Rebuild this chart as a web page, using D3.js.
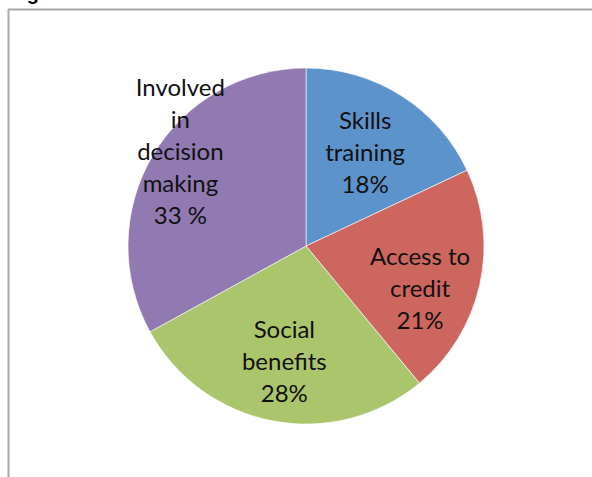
<!DOCTYPE html>
<html>
<head>
<meta charset="utf-8">
<script src="https://cdn.jsdelivr.net/npm/d3@7"></script>
<style>
  html, body { margin: 0; padding: 0; background: #fff; }
  svg { display: block; }
</style>
</head>
<body>
<svg id="chart" width="592" height="477"></svg>
<script>
// Slice data, clockwise from 12 o'clock
const categories = ["Skills training", "Access to credit", "Social benefits", "Involved in decision making"];
const shares = [18, 21, 28, 33];
const labelLines = [
  ["Skills", "training", "18%"],
  ["Access to", "credit", "21%"],
  ["Social", "benefits", "28%"],
  ["Involved", "in", "decision", "making", "33 %"]
];
const sliceColors = ["#5d93cb", "#ce6660", "#abc56c", "#9179b2"];

const svg = d3.select("#chart");

// Frame lines of the figure panel and the clipped caption above it
svg.append("text")
  .attr("x", 9).attr("y", 0)
  .attr("font-family", "Liberation Sans, Arial, sans-serif")
  .attr("font-weight", "bold").attr("font-size", 20)
  .text("Figure");
svg.append("line")
  .attr("x1", 8).attr("x2", 592).attr("y1", 9.5).attr("y2", 9.5)
  .attr("stroke", "#a8a8a8").attr("stroke-width", 2);
svg.append("line")
  .attr("x1", 8.5).attr("x2", 8.5).attr("y1", 9).attr("y2", 477)
  .attr("stroke", "#a8a8a8").attr("stroke-width", 2);

const cx = 306, cy = 246, r = 178;
const g = svg.append("g").attr("transform", `translate(${cx},${cy})`);

const pie = d3.pie().sort(null).value(d => d)(shares);
const arc = d3.arc().innerRadius(0).outerRadius(r);
const color = d3.scaleOrdinal().domain(categories).range(sliceColors);

g.selectAll("path.slice")
  .data(pie)
  .join("path")
  .attr("class", "slice")
  .attr("d", arc)
  .attr("fill", (d, i) => color(categories[i]))
  .attr("stroke", "#ffffff")
  .attr("stroke-width", 0.6);

// Label placement: fraction of radius along mid-angle, plus a small nudge
const labelRadius = [0.62, 0.72, 0.68, 0.82];
const labelNudge = [[0, 0], [-11, 15], [1, -3], [0, -20]];
const lineH = 32;

g.selectAll("text.lbl")
  .data(pie)
  .join("text")
  .attr("class", "lbl")
  .attr("text-anchor", "middle")
  .attr("font-family", "Lato, 'Open Sans', sans-serif")
  .attr("font-size", 24)
  .attr("fill", "#111")
  .each(function(d, i) {
    const mid = (d.startAngle + d.endAngle) / 2;
    const rr = r * labelRadius[i];
    const x = Math.sin(mid) * rr + labelNudge[i][0];
    const y = -Math.cos(mid) * rr + labelNudge[i][1];
    const lines = labelLines[i];
    const top = y - (lines.length - 1) * lineH / 2;
    d3.select(this).selectAll("tspan")
      .data(lines)
      .join("tspan")
      .attr("x", x)
      .attr("y", (t, k) => top + k * lineH)
      .attr("dy", "0.35em")
      .text(t => t);
  });
</script>
</body>
</html>
